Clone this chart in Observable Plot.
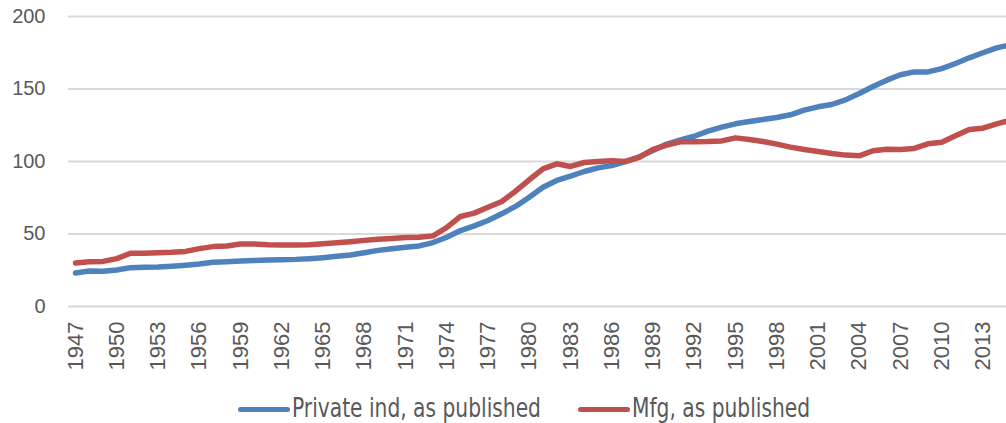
<!DOCTYPE html>
<html>
<head>
<meta charset="utf-8">
<script src="https://cdn.jsdelivr.net/npm/d3@7"></script>
<script src="https://cdn.jsdelivr.net/npm/@observablehq/plot@0.6"></script>
<style>
  html, body { margin: 0; padding: 0; background: #fff; }
  #wrap { position: relative; width: 1006px; height: 423px; overflow: hidden; }
  #legend { position: absolute; left: 0; top: 393px; width: 1006px; height: 30px; }
  .sw { position: absolute; top: 14px; width: 52px; height: 5px; border-radius: 3px; }
  .lt { position: absolute; top: 0; font-family: "DejaVu Sans Condensed", "Liberation Sans Narrow", sans-serif; font-size: 22.5px; line-height: 31px; color: #595959; white-space: nowrap; transform-origin: 0 50%; transform: scaleY(1.15); }
</style>
</head>
<body>
<div id="wrap">
  <div id="chart"></div>
  <div id="legend"></div>
</div>
<script>
const years = [1947,1948,1949,1950,1951,1952,1953,1954,1955,1956,1957,1958,1959,1960,1961,1962,1963,1964,1965,1966,1967,1968,1969,1970,1971,1972,1973,1974,1975,1976,1977,1978,1979,1980,1981,1982,1983,1984,1985,1986,1987,1988,1989,1990,1991,1992,1993,1994,1995,1996,1997,1998,1999,2000,2001,2002,2003,2004,2005,2006,2007,2008,2009,2010,2011,2012,2013,2014,2015];
const privateInd = [23.1,24.5,24.3,25.2,26.8,27.0,27.2,27.7,28.4,29.3,30.5,30.9,31.4,31.8,32.1,32.3,32.5,33.0,33.7,34.6,35.5,37.1,38.7,39.8,40.9,41.8,44.1,47.8,52.4,55.6,59.3,63.9,69.0,75.4,82.3,86.9,89.9,93.1,95.6,97.2,100.0,103.2,107.6,112.0,114.9,117.4,120.9,123.7,126.0,127.6,129.0,130.3,132.2,135.4,137.7,139.3,142.5,146.9,151.7,156.1,159.8,161.8,161.8,164.1,167.6,171.5,175.0,178.4,180.5];
const mfg = [30.0,30.9,31.1,33.0,36.7,36.7,37.1,37.4,38.0,39.9,41.3,41.7,43.1,43.1,42.6,42.4,42.4,42.6,43.3,44.0,44.7,45.6,46.4,46.9,47.6,47.8,48.7,54.5,62.1,64.4,68.5,72.4,79.5,87.4,94.9,98.4,96.6,99.3,100.0,100.5,100.0,102.8,108.3,111.3,113.6,113.7,113.8,114.2,116.3,115.2,113.8,112.0,109.9,108.3,106.9,105.5,104.4,103.9,107.4,108.5,108.3,109.0,112.2,113.3,117.7,122.1,123.0,126.0,128.5];
const yTicks = [0, 50, 100, 150, 200];
const xTicks = [1947,1950,1953,1956,1959,1962,1965,1968,1971,1974,1977,1980,1983,1986,1989,1992,1995,1998,2001,2004,2007,2010,2013];
const seriesNames = ["Private ind, as published", "Mfg, as published"];
const seriesColors = ["#4f81bd", "#c0504d"];

const rows = [];
years.forEach((y, i) => {
  rows.push({year: y, value: privateInd[i], series: seriesNames[0]});
  rows.push({year: y, value: mfg[i], series: seriesNames[1]});
});

const chart = Plot.plot({
  width: 1006,
  height: 376,
  marginLeft: 68,
  marginRight: 0,
  marginTop: 16,
  marginBottom: 70,
  style: {fontFamily: "'Liberation Sans', Arial, sans-serif", fontSize: "20px", color: "#595959", background: "#fff"},
  x: {domain: [1946.49, 2014.71], label: null},
  y: {domain: [0, 200], label: null},
  color: {domain: seriesNames, range: seriesColors},
  marks: [
    Plot.ruleY(yTicks, {stroke: "#d9d9d9", strokeWidth: 2}),
    Plot.axisY({ticks: yTicks, tickSize: 0, tickPadding: 23, fontSize: 20, label: null, fill: "#595959"}),
    Plot.axisX({ticks: xTicks, tickFormat: d => String(d), tickRotate: -90, tickSize: 0, tickPadding: 15, fontSize: 22, label: null, fill: "#595959"}),
    Plot.line(rows, {x: "year", y: "value", stroke: "series", strokeWidth: 5.5, strokeLinecap: "round", strokeLinejoin: "round", clip: true})
  ]
});
document.getElementById("chart").appendChild(chart);

const legend = document.getElementById("legend");
const legendX = [[238, 292], [578, 632]];
seriesNames.forEach((name, i) => {
  const sw = document.createElement("div");
  sw.className = "sw";
  sw.style.left = legendX[i][0] + "px";
  sw.style.background = seriesColors[i];
  legend.appendChild(sw);
  const t = document.createElement("div");
  t.className = "lt";
  t.style.left = legendX[i][1] + "px";
  t.textContent = name;
  legend.appendChild(t);
});
</script>
</body>
</html>
